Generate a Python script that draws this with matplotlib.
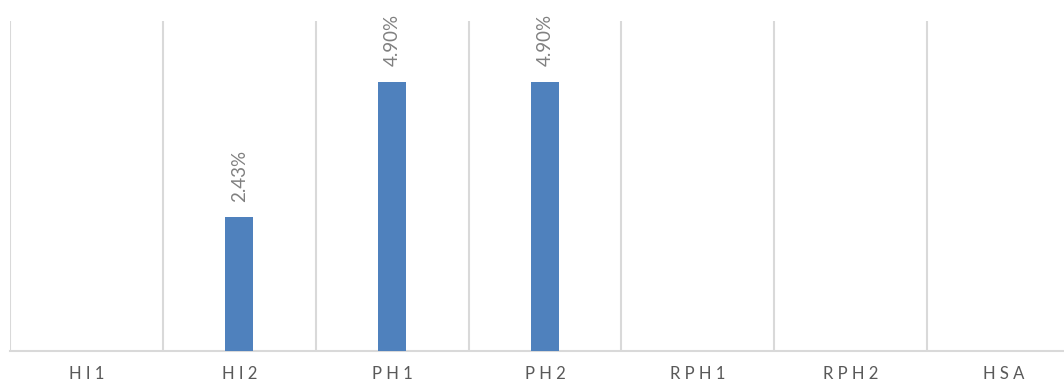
import matplotlib.pyplot as plt
import numpy as np

categories = ["HI1", "HI2", "PH1", "PH2", "RPH1", "RPH2", "HSA"]
values = [0.0, 2.43, 4.90, 4.90, 0.0, 0.0, 0.0]
labels = ["", "2.43%", "4.90%", "4.90%", "", "", ""]

GRID = "#d9d9d9"
BAR = "#4f81bd"

plt.rcParams["font.family"] = ["Lato", "DejaVu Sans"]
fig = plt.figure(figsize=(10.64, 3.87), dpi=100)
ax = fig.add_axes([10 / 1064, 1 - 351 / 387, 1070 / 1064, 330 / 387])

x = np.arange(len(categories))
ax.bar(x, values, width=0.185, color=BAR, zorder=3)

for xi, v, lab in zip(x, values, labels):
    if lab:
        ax.annotate(lab, (xi, v), xytext=(0, 11), textcoords="offset points",
                    rotation=90, ha="center", va="bottom", fontsize=13.5,
                    color="#808080", annotation_clip=False)

ax.set_xlim(-0.5, len(categories) - 0.5)
ax.set_ylim(0, 6)
ax.set_xticks(x)
ax.set_xticklabels([" ".join(c) for c in categories], fontsize=12, color="#595959")
ax.set_xticks(np.arange(-0.5, len(categories)), minor=True)
ax.tick_params(axis="x", which="both", length=0, pad=11)
ax.set_yticks([])
ax.grid(axis="x", which="minor", color=GRID, linewidth=1.5, zorder=0)
for side in ("top", "right", "left"):
    ax.spines[side].set_visible(False)
ax.spines["bottom"].set_color(GRID)
ax.spines["bottom"].set_linewidth(1.5)

fig.savefig("out.png", dpi=100)
